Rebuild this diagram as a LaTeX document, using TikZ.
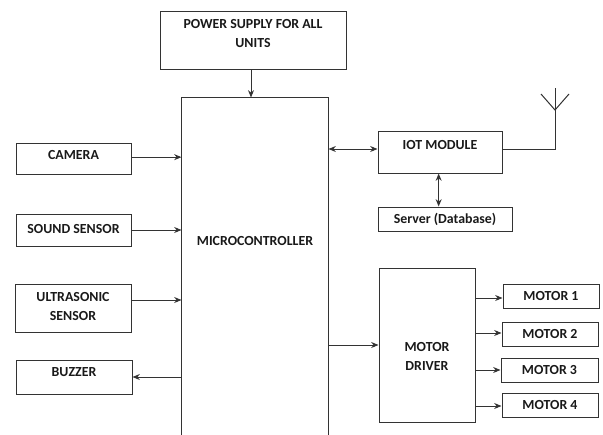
\documentclass[tikz,border=0pt]{standalone}
\usepackage{fontspec}
\setmainfont{Carlito}
\usetikzlibrary{arrows.meta}
\tikzset{
  blockbox/.style={draw=black!80, line width=0.75pt, inner sep=0pt, align=center, text=black!90,
    font=\fontsize{10.4}{14.5}\selectfont\bfseries},
  linkline/.style={black!80, line width=0.75pt},
  >={Stealth[length=5.5pt, width=4.5pt]},
}
\begin{document}
\begin{tikzpicture}[x=0.75pt, y=-0.75pt]
  \useasboundingbox (0,0) rectangle (603,435);

  % left column and top
  \node[blockbox, minimum width=139.5pt, minimum height=43.5pt, text depth=11.25pt] (power) at (253,41) {POWER SUPPLY FOR ALL\\UNITS};
  \node[blockbox, minimum width=86.25pt, minimum height=23.25pt, text depth=5.25pt] (camera) at (73.5,158.5) {CAMERA};
  \node[blockbox, minimum width=86.25pt, minimum height=24pt, text depth=1.5pt] (sound) at (73.5,230) {SOUND SENSOR};
  \node[blockbox, minimum width=87pt, minimum height=36pt, text depth=2.25pt] (ultrasonic) at (73,308) {ULTRASONIC\\SENSOR};
  \node[blockbox, minimum width=87pt, minimum height=25.5pt, text depth=7.5pt] (buzzer) at (74,377) {BUZZER};

  % open at the bottom edge
  \node[blockbox, draw=none, minimum width=109.5pt, minimum height=252.75pt, text depth=38pt] (micro) at (255,266.5) {MICROCONTROLLER};
  \draw[linkline] (micro.south west) -- (micro.north west) -- (micro.north east) -- (micro.south east);

  % right column
  \node[blockbox, minimum width=93pt, minimum height=31.5pt, text depth=10.5pt] (iot) at (440,152) {IOT MODULE};
  \node[blockbox, minimum width=100.5pt, minimum height=18pt] (server) at (445,219) {Server (Database)};
  \node[blockbox, minimum width=72pt, minimum height=115.5pt, text height=38pt] (driver) at (427,345) {MOTOR\\DRIVER};
  \node[blockbox, minimum width=72pt, minimum height=18pt] (motorA) at (551,296) {MOTOR 1};
  \node[blockbox, minimum width=72pt, minimum height=18pt] (motorB) at (550,334) {MOTOR 2};
  \node[blockbox, minimum width=72.75pt, minimum height=18pt] (motorC) at (549.5,370) {MOTOR 3};
  \node[blockbox, minimum width=72pt, minimum height=18pt] (motorD) at (550,405) {MOTOR 4};

  % antenna
  \coordinate (mastbend) at (555,149);
  \coordinate (masttop) at (555,88);
  \coordinate (mastfork) at (555,110);
  \coordinate (armleft) at (541,94);
  \coordinate (armright) at (569,94);

  \draw[linkline, ->] ([xshift=-1.5pt]power.south) -- ([xshift=-1.5pt]power.south |- micro.north);
  \draw[linkline, ->] ([yshift=1pt]camera.east) -- ([yshift=1pt]camera.east -| micro.west);
  \draw[linkline, ->] (sound.east) -- (sound.east -| micro.west);
  \draw[linkline, ->] ([yshift=6pt]ultrasonic.east) -- ([yshift=6pt]ultrasonic.east -| micro.west);
  \draw[linkline, ->] (buzzer.east -| micro.west) -- (buzzer.east);

  \draw[linkline, <->] ([yshift=2.25pt]iot.west -| micro.east) -- ([yshift=2.25pt]iot.west);
  \draw[linkline, <->] ([xshift=-1pt]iot.south) -- ([xshift=-1pt]iot.south |- server.north);
  \draw[linkline] (iot.east |- mastbend) -- (mastbend) -- (masttop);
  \draw[linkline] (armleft) -- (mastfork) -- (armright);

  \draw[linkline, ->] (driver.west -| micro.east) -- (driver.west);
  \draw[linkline, ->] ([yshift=-1.5pt]driver.east |- motorA.west) -- ([yshift=-1.5pt]motorA.west);
  \draw[linkline, ->] ([yshift=0.75pt]driver.east |- motorB.west) -- ([yshift=0.75pt]motorB.west);
  \draw[linkline, ->] (driver.east |- motorC.west) -- (motorC.west);
  \draw[linkline, ->] ([yshift=-0.75pt]driver.east |- motorD.west) -- ([yshift=-0.75pt]motorD.west);
\end{tikzpicture}
\end{document}
